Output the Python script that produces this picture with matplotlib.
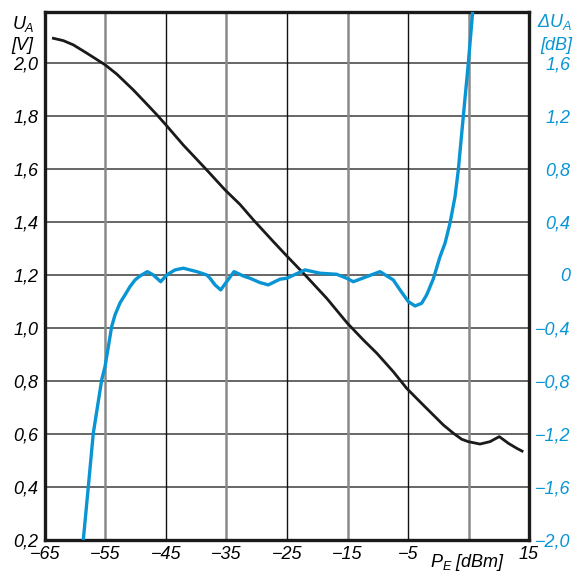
import matplotlib
matplotlib.use("Agg")
import matplotlib.pyplot as plt
import matplotlib.font_manager as fm

# fonts: narrow italic like the print original
names = {f.name for f in fm.fontManager.ttflist}
FONT = 'Liberation Sans Narrow' if 'Liberation Sans Narrow' in names else 'Liberation Sans'
plt.rcParams['font.family'] = [FONT, 'DejaVu Sans']
plt.rcParams['font.style'] = 'italic'
plt.rcParams['mathtext.fontset'] = 'custom'
plt.rcParams['mathtext.rm'] = FONT + ':italic'
plt.rcParams['mathtext.it'] = FONT + ':italic'

BLUE = '#0995d4'

# output voltage U_A [V] vs input power P_E [dBm]
pe_u = [-63.84, -61.97, -60.32, -58.11, -55.08, -53.15, -50.4, -48.19, -46.54,
        -45.05, -42.14, -38.55, -35.25, -32.77, -30.57, -27.27, -25.05, -22.02,
        -18.44, -15.03, -12.39, -10.17, -7.43, -5.21, -2.47, -0.26, 0.84, 2.49,
        3.88, 4.97, 6.9, 8.55, 10.09, 11.58, 12.97, 14.06]
u_a = [2.094, 2.084, 2.068, 2.037, 1.993, 1.958, 1.898, 1.845, 1.805,
       1.767, 1.69, 1.603, 1.521, 1.466, 1.408, 1.326, 1.272, 1.2,
       1.112, 1.018, 0.955, 0.905, 0.835, 0.772, 0.709, 0.659, 0.634, 0.603,
       0.58, 0.571, 0.562, 0.571, 0.59, 0.565, 0.546, 0.533]

# deviation dU_A [dB]
pe_d = [-58.67, -57.84, -57.02, -55.63, -55.08, -53.98, -53.43, -52.6, -51.78,
        -50.95, -50.12, -49.3, -48.09, -47.1, -45.88, -44.88, -43.51, -42.14,
        -39.93, -38.27, -37.73, -36.9, -35.96, -34.97, -33.76, -32.22, -31.12,
        -29.46, -28.09, -26.16, -25.05, -22.02, -19.55, -16.79, -15.13, -14.04,
        -11.83, -9.63, -7.43, -6.32, -4.95, -3.84, -2.74, -1.91, -0.82, 0.29,
        1.12, 1.94, 2.77, 3.31, 4.14, 4.97, 5.69]
du_a = [-2.0, -1.598, -1.195, -0.792, -0.692, -0.39, -0.302, -0.211, -0.151,
        -0.088, -0.038, -0.008, 0.025, 0.0, -0.051, 0.0, 0.038, 0.051,
        0.025, 0.0, -0.025, -0.075, -0.113, -0.051, 0.025, -0.008, -0.025,
        -0.058, -0.075, -0.032, -0.025, 0.038, 0.013, 0.005, -0.025, -0.051,
        -0.013, 0.025, -0.038, -0.113, -0.201, -0.234, -0.214, -0.15, -0.03, 0.138,
        0.239, 0.39, 0.59, 0.79, 1.195, 1.598, 1.987]

x_ticks = [-65, -55, -45, -35, -25, -15, -5, 5, 15]
x_labels = ['\u221265', '\u221255', '\u221245', '\u221235', '\u221225',
            '\u221215', '\u22125', '', '15']
u_ticks = [0.2, 0.4, 0.6, 0.8, 1.0, 1.2, 1.4, 1.6, 1.8, 2.0]
d_ticks = [-2.0, -1.6, -1.2, -0.8, -0.4, 0.0, 0.4, 0.8, 1.2, 1.6]


def comma(v):
    s = f'{abs(v):.1f}'.replace('.', ',')
    if v == 0:
        return '0'
    return ('\u2212' if v < 0 else '') + s


fig = plt.figure(figsize=(5.76, 5.72), dpi=100)
ax = fig.add_axes([45 / 576, 32 / 572, 484 / 576, 528 / 572])
ax.set_xlim(-65, 15)
ax.set_ylim(0.2, 2.192)

# grid
for y in u_ticks[1:]:
    ax.axhline(y, color='#5a5a5a', lw=1.3, zorder=1)
for i, x in enumerate(x_ticks[1:-1]):
    if i % 2 == 0:
        ax.axvline(x, color='#8a8a8a', lw=1.8, zorder=1)
    else:
        ax.axvline(x, color='#111111', lw=1.0, zorder=1)

ax.set_xticks(x_ticks)
ax.set_xticklabels(x_labels)
ax.set_yticks(u_ticks)
ax.set_yticklabels([comma(v) for v in u_ticks])
ax.tick_params(axis='both', length=0, labelsize=13)
ax.tick_params(axis='y', pad=5)
ax.tick_params(axis='x', pad=4)
for s in ax.spines.values():
    s.set_linewidth(2.4)
    s.set_color('#1a1a1a')

ax.plot(pe_u, u_a, color='#1a1a1a', lw=2.0, zorder=3,
        solid_joinstyle='round', solid_capstyle='butt')

ax2 = ax.twinx()
ax2.set_ylim(-2.0, (2.192 - 1.2) * 2)
ax2.set_yticks(d_ticks)
ax2.set_yticklabels([comma(v) for v in d_ticks])
ax2.tick_params(axis='y', length=0, labelsize=13, colors=BLUE, pad=30)
for lab in ax2.get_yticklabels():
    lab.set_horizontalalignment('right')
for s in ax2.spines.values():
    s.set_visible(False)
ax2.plot(pe_d, du_a, color=BLUE, lw=2.4, zorder=3, solid_joinstyle='round')

# axis titles
fig.text(12 / 576, 1 - 29 / 572, r'$U_A$', fontsize=13, ha='left', va='baseline')
fig.text(11 / 576, 1 - 50 / 572, '[V]', fontsize=13, ha='left', va='baseline')
fig.text(572 / 576, 1 - 27 / 572, r'$\Delta U_A$', fontsize=13, ha='right',
         va='baseline', color=BLUE)
fig.text(572 / 576, 1 - 50 / 572, '[dB]', fontsize=13, ha='right',
         va='baseline', color=BLUE)
fig.text(430 / 576, 1 - 567 / 572, r'$P_E$ [dBm]', fontsize=13, ha='left',
         va='baseline')

fig.savefig('out.png', dpi=100)
